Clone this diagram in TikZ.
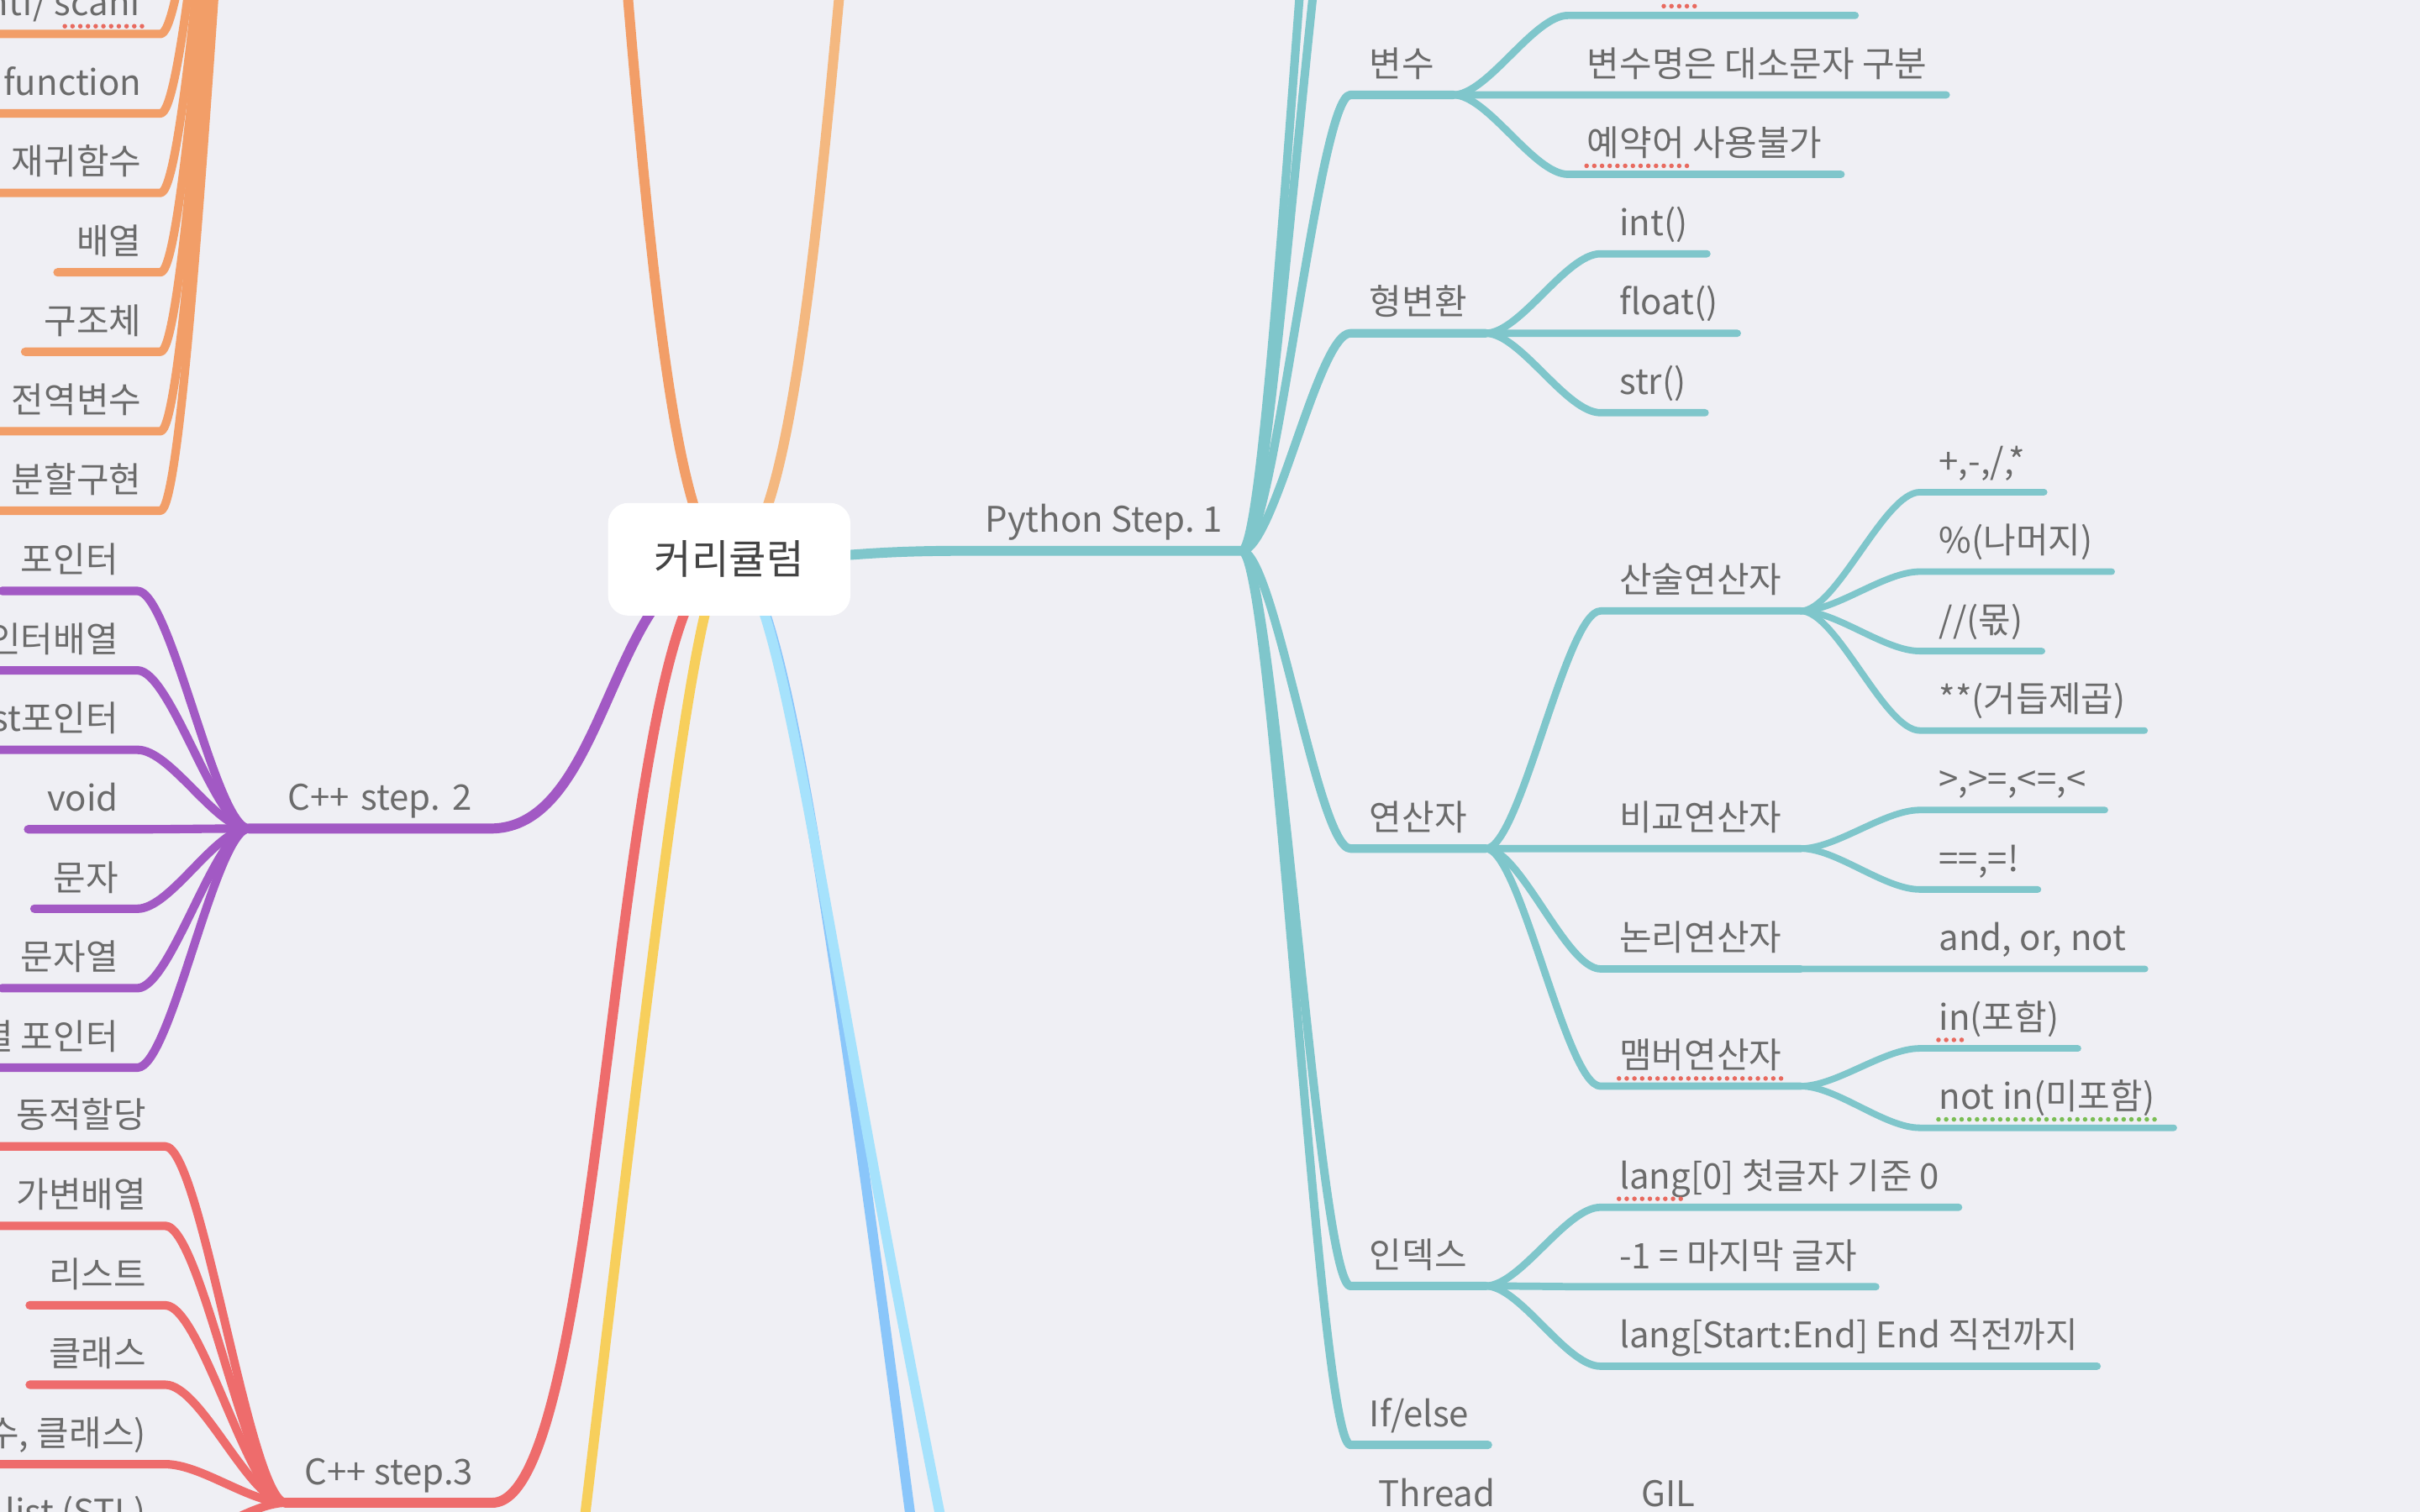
\documentclass[tikz,border=0pt]{standalone}
\usepackage{fontspec}
\setmainfont{Noto Sans CJK KR}
\usepackage{xcolor}
\usetikzlibrary{positioning,calc,backgrounds}

\definecolor{mapbg}{RGB}{239,239,244}
\definecolor{pyteal}{RGB}{127,198,203}
\definecolor{cpurple}{RGB}{162,89,196}
\definecolor{cred}{RGB}{238,108,108}
\definecolor{corange}{RGB}{242,158,104}
\definecolor{clorange}{RGB}{244,184,128}
\definecolor{cyellow}{RGB}{247,207,92}
\definecolor{cblue}{RGB}{138,198,250}
\definecolor{clblue}{RGB}{166,226,252}
\definecolor{textgray}{RGB}{107,107,107}
\definecolor{rootgray}{RGB}{68,68,68}
\definecolor{spellred}{RGB}{232,106,95}
\definecolor{spellgreen}{RGB}{122,190,84}
\frenchspacing

\begin{document}
\begin{tikzpicture}
[
x=0.02cm, y=-0.02cm,
map root/.style={rectangle, rounded corners=0.26cm, fill=white, minimum width=3.14cm, minimum height=1.46cm, inner sep=0pt, font=\fontsize{15pt}{18pt}\selectfont, text=rootgray},
map topic/.style={anchor=south west, inner xsep=0.24cm, inner ysep=0.23cm, text depth=0pt, font=\fontsize{13pt}{16pt}\selectfont, text=textgray},
map lefttopic/.style={map topic, anchor=south east},
map line1/.style={line width=0.13cm, line cap=round, line join=round},
map line2/.style={line width=0.11cm, line cap=round, line join=round},
map line3/.style={line width=0.095cm, line cap=round, line join=round},
map line4/.style={line width=0.085cm, line cap=round, line join=round},
map spell/.style={line width=0.06cm, line cap=round, dash pattern=on 0pt off 0.1cm},
map link/.style={to path={.. controls ($(\tikztostart)!#1!(\tikztostart -| \tikztotarget)$) and ($(\tikztotarget)!#1!(\tikztotarget -| \tikztostart)$) .. (\tikztotarget)}},
map link/.default=0.3
]
\useasboundingbox (0,0) rectangle (1568,980);

% center
\node[map root] (cur) at (472.5,362.5) {커리큘럼};

% Python Step. 1
\node[map topic] (py) at (626,357) {Python Step. 1};
\coordinate (pyup1) at (875,-300);
\coordinate (pyup2) at (875,-145);
\node[map topic] (var) at (875,61.5) {변수};
\node[map topic] (cast) at (875,216) {형변환};
\node[map topic] (oper) at (875,550) {연산자};
\node[map topic] (idx) at (875,833.5) {인덱스};
\node[map topic] (ifel) at (875,936.5) {If/else};

% variables
\coordinate (var0a) at (1016,10);
\coordinate (var0b) at (1202,10);
\node[map topic] (var1) at (1016,61.5) {변수명은 대소문자 구분};
\node[map topic] (var2) at (1016,113) {예약어 사용불가};

% casts
\node[map topic] (cast1) at (1037,164.5) {int()};
\node[map topic] (cast2) at (1037,216) {float()};
\node[map topic] (cast3) at (1037,267.5) {str()};

% operators
\node[map topic] (arith) at (1037,396) {산술연산자};
\node[map topic] (comp) at (1037,550) {비교연산자};
\node[map topic] (logic) at (1037,628) {논리연산자};
\node[map topic] (memb) at (1037,704) {맴버연산자};
\node[map topic] (arith1) at (1244,319) {+,-,/,*};
\node[map topic] (arith2) at (1244,370.5) {\%(나머지)};
\node[map topic] (arith3) at (1244,422) {//(몫)};
\node[map topic] (arith4) at (1244,473.5) {**(거듭제곱)};
\node[map topic] (comp1) at (1244,525) {>,>=,<=,<};
\node[map topic] (comp2) at (1244,576.5) {==,=!};
\node[map topic] (logic1) at (1244,628) {and, or, not};
\node[map topic] (memb1) at (1244,679.5) {in(포함)};
\node[map topic] (memb2) at (1244,731) {not in(미포함)};

% index
\node[map topic] (idx1) at (1037,782.5) {lang[0] 첫글자 기준 0};
\node[map topic] (idx2) at (1037,834) {-1 = 마지막 글자};
\node[map topic] (idx3) at (1037,885.5) {lang[Start:End] End 직전까지};

% next row (cut off)
\node[map topic] (thr) at (881,988.5) {Thread};
\node[map topic] (gil) at (1051,988.5) {GIL};

% C branch above
\coordinate (cpre) at (330,-500);
\coordinate (cprehub) at (185,-500);
\coordinate (lorg) at (627,-500);
\node[map lefttopic] (pf) at (104,22) {printf/ scanf};
\node[map lefttopic] (func) at (104,73.5) {function};
\node[map lefttopic] (recur) at (104,125) {재귀함수};
\node[map lefttopic] (arr) at (104,176.5) {배열};
\node[map lefttopic] (struc) at (104,228) {구조체};
\node[map lefttopic] (glob) at (104,279.5) {전역변수};
\node[map lefttopic] (split) at (104,331) {분할구현};

% C++ step. 2
\node[map lefttopic, text width=2.64cm, align=right] (cpp2) at (318,537) {C++ step. 2};
\node[map lefttopic] (ptr) at (89,383) {포인터};
\node[map lefttopic] (ptrarr) at (89,434.5) {포인터배열};
\node[map lefttopic] (cptr) at (89,486) {const포인터};
\node[map lefttopic] (void) at (89,537.5) {void};
\node[map lefttopic] (chr) at (89,589) {문자};
\node[map lefttopic] (str) at (89,640.5) {문자열};
\node[map lefttopic] (arrptr) at (89,692) {배열 포인터};

% C++ step.3
\node[map lefttopic] (cpp3) at (319,974) {C++ step.3};
\node[map lefttopic] (dyn) at (107,743) {동적할당};
\node[map lefttopic] (vec) at (107,794.5) {가변배열};
\node[map lefttopic] (lst) at (107,846) {리스트};
\node[map lefttopic] (cls) at (107,897.5) {클래스};
\node[map lefttopic] (tmpl) at (107,949) {템플릿(함수, 클래스)};
\node[map lefttopic] (stl) at (107,1000.5) {list (STL)};

% branches below
\coordinate (ylw) at (365,1100);
\coordinate (blu) at (600,1060);
\coordinate (lblu) at (625,1060);

% lines out of the center
\begin{scope}[on background layer]
\fill[mapbg] (0,0) rectangle (1568,980);
\draw[map line1, corange] (cur.center) to[map link=0.5] (cpre) -- (cprehub);
\draw[map line1, clorange] (cur.center) to[map link=0.5] (lorg);
\draw[map line1, cpurple] (cur.center) to[map link=0.5] (cpp2.south east) -- (cpp2.south west);
\draw[map line1, cred] (cur.center) to[map link=0.5] (cpp3.south east) -- (cpp3.south west);
\draw[map line1, cyellow] (cur.center) .. controls (450,362) and (425,600) .. (ylw);
\draw[map line1, cblue] (cur.center) .. controls (505,362) and (535,560) .. (blu);
\draw[map line1, clblue] (cur.center) .. controls (508,362) and (530,600) .. (lblu);
\draw[map line1, pyteal] (cur.center) to[map link=0.5] (py.south west) -- (py.south east);
\end{scope}

% python lines
\draw[map line2, pyteal] (py.south east) to[map link] (pyup1);
\draw[map line2, pyteal] (py.south east) to[map link] (pyup2);
\draw[map line2, pyteal] (py.south east) to[map link] (var.south west) -- (var.south east);
\draw[map line2, pyteal] (py.south east) to[map link] (cast.south west) -- (cast.south east);
\draw[map line2, pyteal] (py.south east) to[map link] (oper.south west) -- (oper.south east);
\draw[map line2, pyteal] (py.south east) to[map link] (idx.south west) -- (idx.south east);
\draw[map line2, pyteal] (py.south east) to[map link] (ifel.south west) -- (ifel.south east);

\draw[map line3, pyteal] (var.south east) to[map link] (var0a) -- (var0b);
\draw[map line3, pyteal] (var.south east) to[map link] (var1.south west) -- (var1.south east);
\draw[map line3, pyteal] (var.south east) to[map link] (var2.south west) -- (var2.south east);
\draw[map line3, pyteal] (cast.south east) to[map link] (cast1.south west) -- (cast1.south east);
\draw[map line3, pyteal] (cast.south east) to[map link] (cast2.south west) -- (cast2.south east);
\draw[map line3, pyteal] (cast.south east) to[map link] (cast3.south west) -- (cast3.south east);
\draw[map line3, pyteal] (oper.south east) to[map link] (arith.south west) -- (arith.south east);
\draw[map line3, pyteal] (oper.south east) to[map link] (comp.south west) -- (comp.south east);
\draw[map line3, pyteal] (oper.south east) to[map link] (logic.south west) -- (logic.south east);
\draw[map line3, pyteal] (oper.south east) to[map link] (memb.south west) -- (memb.south east);
\draw[map line3, pyteal] (idx.south east) to[map link] (idx1.south west) -- (idx1.south east);
\draw[map line3, pyteal] (idx.south east) to[map link] (idx2.south west) -- (idx2.south east);
\draw[map line3, pyteal] (idx.south east) to[map link] (idx3.south west) -- (idx3.south east);

\draw[map line4, pyteal] (arith.south east) to[map link] (arith1.south west) -- (arith1.south east);
\draw[map line4, pyteal] (arith.south east) to[map link] (arith2.south west) -- (arith2.south east);
\draw[map line4, pyteal] (arith.south east) to[map link] (arith3.south west) -- (arith3.south east);
\draw[map line4, pyteal] (arith.south east) to[map link] (arith4.south west) -- (arith4.south east);
\draw[map line4, pyteal] (comp.south east) to[map link] (comp1.south west) -- (comp1.south east);
\draw[map line4, pyteal] (comp.south east) to[map link] (comp2.south west) -- (comp2.south east);
\draw[map line4, pyteal] (logic.south east) to[map link] (logic1.south west) -- (logic1.south east);
\draw[map line4, pyteal] (memb.south east) to[map link] (memb1.south west) -- (memb1.south east);
\draw[map line4, pyteal] (memb.south east) to[map link] (memb2.south west) -- (memb2.south east);

\draw[map line3, pyteal] (thr.south west) -- (thr.south east) to[map link] (gil.south west) -- (gil.south east);

% C lines
\draw[map line2, corange] (cprehub) to[map link] (pf.south east) -- (pf.south west);
\draw[map line2, corange] (cprehub) to[map link] (func.south east) -- (func.south west);
\draw[map line2, corange] (cprehub) to[map link] (recur.south east) -- (recur.south west);
\draw[map line2, corange] (cprehub) to[map link] (arr.south east) -- (arr.south west);
\draw[map line2, corange] (cprehub) to[map link] (struc.south east) -- (struc.south west);
\draw[map line2, corange] (cprehub) to[map link] (glob.south east) -- (glob.south west);
\draw[map line2, corange] (cprehub) to[map link] (split.south east) -- (split.south west);

% C++ step. 2 lines
\draw[map line2, cpurple] (cpp2.south west) to[map link] (ptr.south east) -- (ptr.south west);
\draw[map line2, cpurple] (cpp2.south west) to[map link] (ptrarr.south east) -- (ptrarr.south west);
\draw[map line2, cpurple] (cpp2.south west) to[map link] (cptr.south east) -- (cptr.south west);
\draw[map line2, cpurple] (cpp2.south west) to[map link] (void.south east) -- (void.south west);
\draw[map line2, cpurple] (cpp2.south west) to[map link] (chr.south east) -- (chr.south west);
\draw[map line2, cpurple] (cpp2.south west) to[map link] (str.south east) -- (str.south west);
\draw[map line2, cpurple] (cpp2.south west) to[map link] (arrptr.south east) -- (arrptr.south west);

% C++ step.3 lines
\draw[map line2, cred] (cpp3.south west) to[map link] (dyn.south east) -- (dyn.south west);
\draw[map line2, cred] (cpp3.south west) to[map link] (vec.south east) -- (vec.south west);
\draw[map line2, cred] (cpp3.south west) to[map link] (lst.south east) -- (lst.south west);
\draw[map line2, cred] (cpp3.south west) to[map link] (cls.south east) -- (cls.south west);
\draw[map line2, cred] (cpp3.south west) to[map link] (tmpl.south east) -- (tmpl.south west);
\draw[map line2, cred] (cpp3.south west) to[map link] (stl.south east) -- (stl.south west);

% spelling marks
\draw[map spell, spellred] ([xshift=-0.24cm, yshift=0.1cm]pf.south east) -- ++(-1.1cm,0);
\draw[map spell, spellred] (1078,4) -- (1102,4);
\draw[map spell, spellred] ([xshift=0.24cm, yshift=0.11cm]var2.south west) -- ++(1.32cm,0);
\draw[map spell, spellred] ([xshift=0.24cm, yshift=0.1cm]memb.south west) -- ([xshift=-0.24cm, yshift=0.1cm]memb.south east);
\draw[map spell, spellred] ([xshift=0.24cm, yshift=0.11cm]memb1.south west) -- ++(0.38cm,0);
\draw[map spell, spellgreen] ([xshift=0.24cm, yshift=0.11cm]memb2.south west) -- ([xshift=-0.24cm, yshift=0.11cm]memb2.south east);
\draw[map spell, spellred] ([xshift=0.24cm, yshift=0.11cm]idx1.south west) -- ++(0.9cm,0);

\end{tikzpicture}
\end{document}
